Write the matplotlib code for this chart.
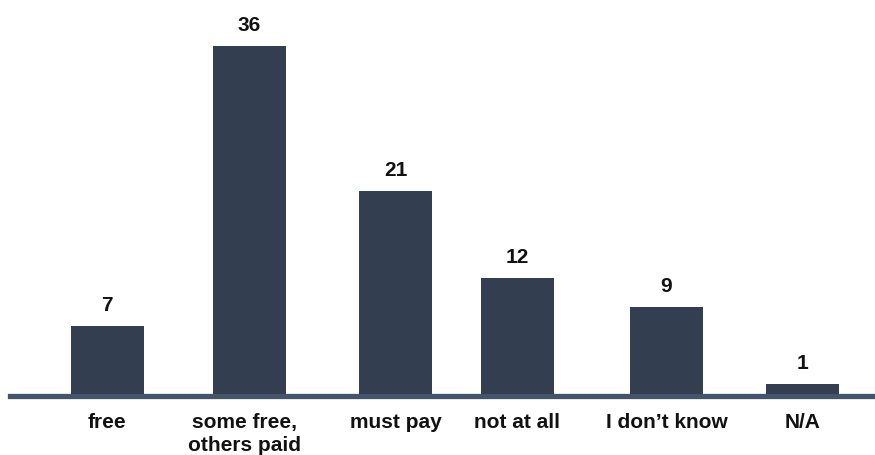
import matplotlib
matplotlib.use("Agg")
import matplotlib.pyplot as plt
from matplotlib.transforms import ScaledTranslation

# Survey answers and counts
categories = ["free", "some free,\nothers paid", "must pay", "not at all", "I don\u2019t know", "N/A"]
counts = [7, 36, 21, 12, 9, 1]

# Layout: slot centres along the x axis (pixel-like units), bar width
slot_centers = [107, 249.5, 395.5, 517.5, 666.5, 802.5]
bar_width = 73

plt.rcParams["font.family"] = ["Liberation Sans", "DejaVu Sans"]

W, H, DPI = 875, 455, 100
fig = plt.figure(figsize=(W / DPI, H / DPI), dpi=DPI)

base_px = 394          # baseline pixel row (from top)
px_per_unit = 9.667    # vertical scale
ax = fig.add_axes([0, (H - base_px) / H, 1, base_px / H])
ax.set_xlim(0, W)
ax.set_ylim(0, base_px / px_per_unit)

bar_color = "#333f50"
ax.bar(slot_centers, counts, width=bar_width, color=bar_color, zorder=2)

for x, v in zip(slot_centers, counts):
    ax.annotate(str(v), (x, v), xytext=(0, 8), textcoords="offset points",
                ha="center", va="bottom", fontsize=15, fontweight="bold", color="#111111")

for s in ("top", "right", "left"):
    ax.spines[s].set_visible(False)
ax.spines["bottom"].set_color("#44546a")
ax.spines["bottom"].set_linewidth(3.8)
ax.spines["bottom"].set_position(("outward", 1.4))
ax.spines["bottom"].set_bounds(10, W)
ax.spines["bottom"].set_zorder(1)

ax.set_yticks([])
ax.set_xticks(slot_centers)
ax.set_xticklabels(categories, fontsize=15, fontweight="bold", color="#111111",
                   linespacing=1.3)
ax.tick_params(axis="x", length=0, pad=12)
# nudge the two-line label a little to the left
lbl = ax.get_xticklabels()[1]
lbl.set_transform(lbl.get_transform() + ScaledTranslation(-4.5 / DPI, 0, fig.dpi_scale_trans))

fig.savefig("out.png", dpi=DPI)
